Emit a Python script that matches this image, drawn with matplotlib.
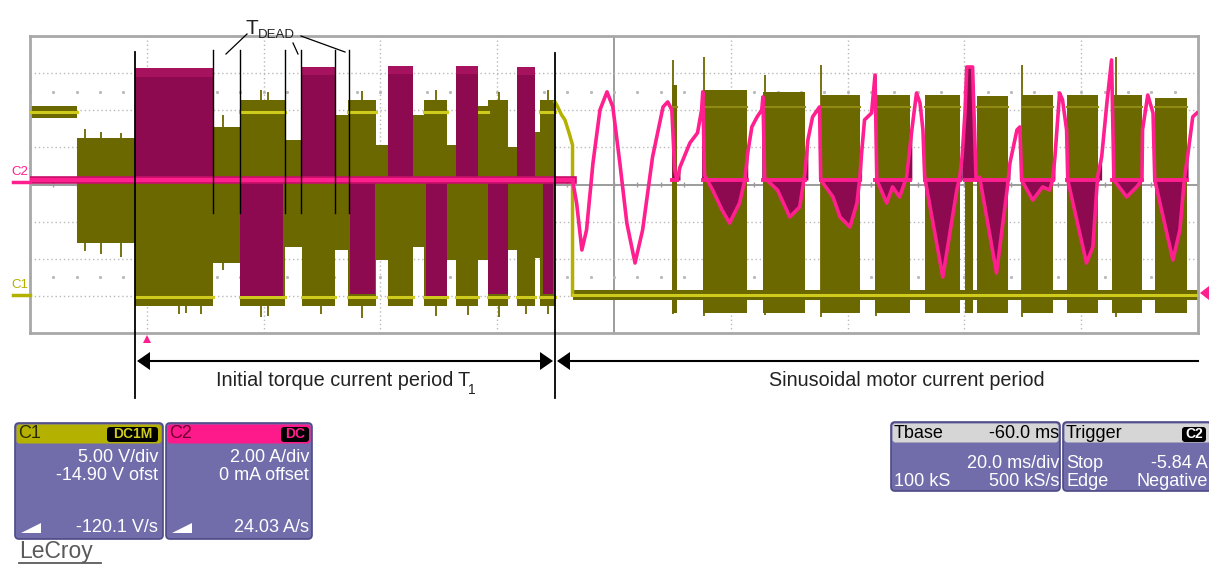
import numpy as np
import matplotlib
matplotlib.use("Agg")
import matplotlib.pyplot as plt
from matplotlib.patches import FancyBboxPatch, Polygon

plt.rcParams["font.family"] = ["Liberation Sans", "DejaVu Sans"]

# scope settings (from the info boxes)
C1_VDIV = 5.0      # V/div
C1_OFST = -14.90   # V offset
C2_ADIV = 2.0      # A/div
T_DIV = 20.0       # ms/div
T_LEFT = -20.0     # ms at left edge (trigger one division in)

# ---- C1 phase voltage, initial torque current period (PWM bursts) ----
c1_t0 = [-20.0, -12.0, -2.05, 11.3, 15.9, 23.6, 26.5, 32.2, 34.4, 39.2, 41.3,
         45.5, 47.4, 51.4, 52.9, 56.7, 58.4, 61.8, 63.4, 66.4, 67.3]
c1_t1 = [-12.0, -2.05, 11.3, 15.9, 23.6, 26.5, 32.2, 34.4, 39.2, 41.3, 45.5,
         47.4, 51.4, 52.9, 56.7, 58.4, 61.8, 63.4, 66.4, 67.3, 69.9]
c1_lo = [23.9, 7.0, -1.4, 4.3, -1.4, 6.5, -1.4, 6.1, -1.4, 4.7, -1.4,
         6.5, -1.4, 4.7, -1.4, 4.7, -1.4, 6.1, -1.4, 5.0, -1.4]
c1_hi = [25.5, 21.2, 26.3, 22.6, 26.3, 20.9, 26.3, 24.3, 26.3, 20.2, 26.3,
         24.3, 26.3, 20.2, 26.3, 25.5, 26.3, 20.0, 26.3, 22.0, 26.3]

# bright (dense) trace levels inside the bursts
c1_line_t0 = [-20.0, -2.05, 15.9, 26.5, 34.4, 41.3, 47.4, 52.9, 58.4, 63.4, 67.3,
              15.9, 34.4, 47.4, 58.4, 67.3]
c1_line_t1 = [-12.0, 11.3, 23.6, 32.2, 39.2, 45.5, 51.4, 56.7, 61.8, 66.4, 69.9,
              23.6, 39.2, 51.4, 56.7, 69.9]
c1_line_v = [24.7, -0.3, -0.3, -0.3, -0.3, -0.3, -0.3, -0.3, -0.3, -0.3, -0.3,
             24.7, 24.7, 24.7, 24.7, 24.7]

# largest glitches on the burst edges
c1_spk_t = [-10.5, -7.9, -4.4, 5.5, 6.7, 9.2, 13.0, 19.5, 20.8, 29.8, 36.8, 43.7,
            49.5, 55.0, 60.3, 65.0, 68.7, 90.1, 95.4, 105.8, 115.4, 124.8, 149.9, 165.9]
c1_spk_hi = [22.4, 22.0, 21.8, 27.6, 27.4, 27.5, 24.2, 27.6, 27.3, 27.5, 27.5, 27.2,
             27.6, 27.4, 27.4, 27.3, 27.6, 31.7, 32.1, 29.7, 31.0, 29.7, 31.0, 32.1]
c1_spk_lo = [6.0, 5.6, 5.2, -2.6, -2.4, -2.5, 3.4, -3.0, -2.8, -2.6, -3.1, 5.6,
             -2.8, -2.7, -2.9, -2.6, -2.6, -2.6, -2.8, -2.7, -3.0, -2.8, -3.0, -2.9]

# decay after the initial period, then drop to 0 V
c1_decay_t = [69.9, 70.2, 71.0, 71.6, 72.4, 72.9, 72.9]
c1_decay_v = [26.0, 25.6, 24.3, 23.6, 21.6, 20.2, 0.0]

# ---- C1 sinusoidal period bursts ----
c1s_t0 = [90.0, 95.2, 105.5, 115.4, 124.7, 133.2, 140.1, 142.1, 149.8, 157.5, 165.2, 172.6]
c1s_t1 = [90.8, 102.7, 112.7, 122.1, 130.7, 139.2, 141.4, 147.4, 155.1, 162.8, 170.4, 178.1]
c1s_top = [28.3, 27.6, 27.3, 27.0, 27.0, 27.0, 27.0, 26.8, 27.0, 27.0, 26.9, 26.6]
c1s_bottom = -2.4

# ---- C2 motor current ----
c2_base = 0.24
c2_hi_t0 = [-2.05, 26.5, 41.3, 52.9, 63.4]
c2_hi_t1 = [11.3, 32.2, 45.5, 56.7, 66.4]
c2_hi_i = [6.25, 6.33, 6.4, 6.4, 6.33]
c2_lo_t0 = [15.9, 34.8, 47.8, 58.4, 67.8]
c2_lo_t1 = [23.3, 39.0, 51.4, 61.8, 69.5]
c2_lo_i = [-6.0, -5.9, -6.0, -5.9, -5.9]

c2_sin_t = [72.9, 73.6, 74.5, 75.3, 76.4, 77.6, 78.8, 79.8, 81.0, 82.2, 83.6, 84.9,
            86.6, 88.4, 89.2, 89.9, 90.4, 90.8, 91.3, 93.0, 94.3, 95.0, 95.2, 95.5,
            96.9, 98.5, 99.8, 100.3, 101.5, 102.4, 102.9, 103.6, 104.5, 105.3, 105.5,
            105.8, 108.0, 110.1, 111.8, 112.7, 113.2, 114.0, 115.2, 115.4, 117.5, 118.7,
            120.4, 121.6, 122.1, 122.4, 122.9, 124.1, 124.7, 125.0, 126.7, 127.7, 128.9,
            130.1, 131.0, 131.8, 132.4, 132.9, 133.2, 136.3, 138.7, 139.2, 139.6, 140.1,
            140.4, 141.4, 142.0, 142.6, 145.5, 147.3, 147.8, 149.0, 149.5, 149.8, 151.7,
            153.4, 154.6, 155.1, 155.5, 156.3, 156.8, 157.5, 157.7, 160.9, 162.0, 162.8,
            163.5, 164.4, 165.2, 165.6, 167.8, 169.5, 170.4, 170.5, 171.4, 172.3, 172.6,
            175.7, 176.9, 177.7, 178.3, 179.1, 179.8]
c2_sin_i = [0.24, -1.00, -3.53, -2.45, 1.16, 4.02, 4.99, 4.18, 1.16, -2.08, -4.23, -2.45,
            1.48, 4.18, 4.45, 4.02, 0.78, 0.24, 0.94, 2.24, 2.78, 4.02, 4.99, 0.50,
            -0.30, -1.37, -2.08, -1.75, -1.00, 0.24, 1.70, 3.10, 3.64, 4.02, 4.72,
            0.35, -0.30, -1.75, -1.21, 0.62, 2.40, 3.64, 4.18, 0.24, -0.67, -1.75,
            -2.29, -1.00, 0.40, 1.70, 3.48, 3.85, 5.90, 0.24, -1.00, -0.13, -0.67,
            0.40, 2.94, 4.93, 4.39, 2.94, 0.40, -4.99, -0.30, 0.40, 1.48, 3.85,
            6.33, 6.33, 0.24, 0.40, -4.77, -0.30, 1.16, 2.94, 3.10, 0.24, -0.84,
            -0.13, -0.30, 0.24, 1.48, 4.93, 4.56, 2.94, 0.24, -4.23, -3.37, 0.40,
            1.48, 4.39, 6.71, 0.24, -0.67, -0.13, 0.24, 2.94, 4.82, 3.85, 0.24,
            -4.07, -2.45, 0.40, 1.70, 3.64, 3.85]

OLIVE = "#6c6800"
YEL = "#cfcb1c"
PINK = "#ff1f8e"
MAG = "#8d0a50"
BODY = "#716dab"
GRID = "#b9b9b9"


def v2d(v):
    return (np.asarray(v, dtype=float) + C1_OFST) / C1_VDIV


def i2d(i):
    return np.asarray(i, dtype=float) / C2_ADIV


W, H = 1209, 565
fig = plt.figure(figsize=(W / 100, H / 100), dpi=100)
ax = fig.add_axes([30 / W, (H - 333) / H, 1168 / W, 297 / H])
ax.set_xlim(T_LEFT, T_LEFT + 10 * T_DIV)
ax.set_ylim(-4, 4)
ax.set_xticks([])
ax.set_yticks([])
for s in ax.spines.values():
    s.set_color("#a8a8a8")
    s.set_linewidth(2)

# graticule
for k in range(1, 10):
    t = T_LEFT + k * T_DIV
    if k == 5:
        ax.axvline(t, color="#9c9c9c", lw=1.4, zorder=0)
    else:
        ax.axvline(t, color=GRID, lw=1, ls=(0, (1, 2)), zorder=0)
for d in range(-3, 4):
    if d == 0:
        ax.axhline(0, color="#9c9c9c", lw=1.4, zorder=0)
    else:
        ax.axhline(d, color=GRID, lw=1, ls=(0, (1, 2)), zorder=0)
minor_t = np.arange(T_LEFT, T_LEFT + 10 * T_DIV + 0.1, T_DIV / 5)
ax.vlines(minor_t, -0.08, 0.08, color="#9c9c9c", lw=1, zorder=0)
ax.plot(minor_t, np.full(len(minor_t), 2.5), ls="none", marker="s", ms=1.1, color=GRID, zorder=0)
ax.plot(minor_t, np.full(len(minor_t), -2.5), ls="none", marker="s", ms=1.1, color=GRID, zorder=0)

# C1 initial period
for t0, t1, lo, hi in zip(c1_t0, c1_t1, c1_lo, c1_hi):
    ax.fill_between([t0, t1], v2d(lo), v2d(hi), color=OLIVE, lw=0, zorder=2)
ax.vlines(c1_spk_t, v2d(c1_spk_lo), v2d(c1_spk_hi), color=OLIVE, lw=1.3, zorder=2)
for t0, t1, v in zip(c1_line_t0, c1_line_t1, c1_line_v):
    ax.plot([t0, t1], [v2d(v), v2d(v)], color=YEL, lw=2.2, zorder=3)
ax.plot(c1_decay_t, v2d(c1_decay_v), color="#b4b000", lw=2.5, zorder=3)

# C1 sinusoidal period
ax.fill_between([72.9, 180], v2d(-0.7), v2d(0.7), color=OLIVE, lw=0, zorder=2)
for t0, t1, top in zip(c1s_t0, c1s_t1, c1s_top):
    ax.fill_between([t0, t1], v2d(c1s_bottom), v2d(top), color=OLIVE, lw=0, zorder=2)
    ax.plot([t0, t1], [v2d(25.4), v2d(25.4)], color="#8e8a12", lw=1.5, zorder=3)
ax.plot([72.9, 180], [v2d(0.0), v2d(0.0)], color=YEL, lw=2.2, zorder=3)

# C2 initial period
for t0, t1, lvl in zip(c2_hi_t0, c2_hi_t1, c2_hi_i):
    ax.fill_between([t0, t1], i2d(c2_base), i2d(lvl), color=MAG, lw=0, zorder=5)
    ax.fill_between([t0, t1], i2d(lvl - 0.45), i2d(lvl), color="#a7125f", lw=0, zorder=5)
for t0, t1, lvl in zip(c2_lo_t0, c2_lo_t1, c2_lo_i):
    ax.fill_between([t0, t1], i2d(lvl), i2d(c2_base), color=MAG, lw=0, zorder=5)
ax.plot([T_LEFT, 72.9], [i2d(c2_base), i2d(c2_base)], color="#c8106a", lw=5.5, zorder=6)
ax.plot([T_LEFT, 72.9], [i2d(c2_base), i2d(c2_base)], color=PINK, lw=3, zorder=6)

# C2 sinusoidal period
st = np.array(c2_sin_t)
si = np.array(c2_sin_i)
for t0, t1 in zip(c1s_t0, c1s_t1):
    m = (st >= t0 - 0.5) & (st <= t1 + 0.7)
    ax.fill_between(st[m], i2d(si[m]), i2d(c2_base), color=MAG, lw=0, zorder=5)
    ax.plot([t0, t1], [i2d(c2_base), i2d(c2_base)], color=PINK, lw=2.8, zorder=6)
ax.plot(st, i2d(si), color=PINK, lw=2.6, zorder=6)

# ---- overlay in pixel coordinates ----
ann = fig.add_axes([0, 0, 1, 1], zorder=10)
ann.set_xlim(0, W)
ann.set_ylim(H, 0)
ann.axis("off")

# channel markers
ann.text(11, 178, "C2", color=PINK, fontsize=9.5, va="bottom")
ann.plot([13, 30], [182, 182], color=PINK, lw=2.5)
ann.text(11, 291, "C1", color="#b4b000", fontsize=9.5, va="bottom")
ann.plot([13, 30], [295, 295], color="#b4b000", lw=2.5)
ann.add_patch(Polygon([[1200, 293], [1209, 286], [1209, 300]], closed=True, fc=PINK, ec="none"))
ann.add_patch(Polygon([[147, 335], [143, 343], [151, 343]], closed=True, fc=PINK, ec="none"))

# period boundaries and dead-time markers
ann.plot([135, 135], [52, 398], color="black", lw=1.3)
ann.plot([555, 555], [53, 398], color="black", lw=1.3)
for x in [213, 240, 285, 301, 335, 349]:
    ann.plot([x, x], [50, 213], color="black", lw=1.0)
ann.text(246, 34, "T", fontsize=15, color="#222222", va="baseline")
ann.text(258, 38, "DEAD", fontsize=9.5, color="#222222", va="baseline")
ann.plot([247, 226], [34, 54], color="black", lw=0.9)
ann.plot([293, 298], [43, 54], color="black", lw=0.9)
ann.plot([301, 345], [36, 52], color="black", lw=0.9)

# period arrows
ann.plot([140, 550], [361, 361], color="black", lw=1.5)
ann.add_patch(Polygon([[137, 361], [150, 352], [150, 370]], closed=True, fc="black", ec="none"))
ann.add_patch(Polygon([[553, 361], [540, 352], [540, 370]], closed=True, fc="black", ec="none"))
ann.plot([560, 1198], [361, 361], color="black", lw=1.5)
ann.add_patch(Polygon([[557, 361], [570, 352], [570, 370]], closed=True, fc="black", ec="none"))
ann.text(216, 381, "Initial torque current period", fontsize=14.3, color="#222222", va="center")
ann.text(457, 381, "T", fontsize=14.3, color="#222222", va="center")
ann.text(468, 390, "1", fontsize=10, color="#222222", va="center")
ann.text(907, 381, "Sinusoidal motor current period", fontsize=14.2, color="#222222",
         va="center", ha="center")


# info boxes
def panel(x0, x1, y0, y1, head_fc):
    ann.add_patch(FancyBboxPatch((x0, y0), x1 - x0, y1 - y0,
                                 boxstyle="round,pad=0,rounding_size=4",
                                 fc=BODY, ec="#4d4a86", lw=1.2))
    ann.add_patch(FancyBboxPatch((x0 + 1.5, y0 + 1.5), x1 - x0 - 3, 19,
                                 boxstyle="round,pad=0,rounding_size=3",
                                 fc=head_fc, ec="none"))


def badge(x0, x1, text, fg):
    ann.add_patch(FancyBboxPatch((x0, 427), x1 - x0, 15,
                                 boxstyle="round,pad=0,rounding_size=3",
                                 fc="black", ec="none"))
    ann.text((x0 + x1) / 2, 434.5, text, color=fg, fontsize=10, fontweight="bold",
             ha="center", va="center")


def ramp(x):
    ann.add_patch(Polygon([[x, 533], [x + 20, 533], [x + 20, 523]], closed=True,
                          fc="white", ec="none"))


txt = dict(color="white", fontsize=13, va="center")
head = dict(color="black", fontsize=13, va="center")

panel(15, 163, 423, 539, "#b5b100")
ann.text(18, 434, "C1", **dict(head, color="#2a2a00"))
badge(107, 158, "DC1M", "#cfcb1c")
ann.text(158, 458, "5.00 V/div", ha="right", **txt)
ann.text(158, 475, "-14.90 V ofst", ha="right", **txt)
ann.text(158, 527, "-120.1 V/s", ha="right", **txt)
ramp(21)

panel(166, 312, 423, 539, "#ff1a8c")
ann.text(169, 434, "C2", **dict(head, color="#6e0030"))
badge(281, 309, "DC", PINK)
ann.text(309, 458, "2.00 A/div", ha="right", **txt)
ann.text(309, 475, "0 mA offset", ha="right", **txt)
ann.text(309, 527, "24.03 A/s", ha="right", **txt)
ramp(172)

panel(891, 1060, 422, 491, "#d6d6d6")
ann.text(894, 433, "Tbase", **head)
ann.text(1059, 433, "-60.0 ms", ha="right", **head)
ann.text(1059, 463, "20.0 ms/div", ha="right", **txt)
ann.text(894, 481, "100 kS", ha="left", **txt)
ann.text(1059, 481, "500 kS/s", ha="right", **txt)

panel(1063, 1212, 422, 491, "#d6d6d6")
ann.text(1066, 433, "Trigger", **head)
badge(1182, 1206, "C2", "white")
ann.text(1066, 463, "Stop", ha="left", **txt)
ann.text(1208, 463, "-5.84 A", ha="right", **txt)
ann.text(1066, 481, "Edge", ha="left", **txt)
ann.text(1208, 481, "Negative", ha="right", **txt)

ann.text(19, 558, "LeCroy", color="#5a5a5a", fontsize=16.5, va="baseline")
ann.plot([19, 101], [562.5, 562.5], color="#5a5a5a", lw=1.3)

fig.savefig("out.png", dpi=100)
